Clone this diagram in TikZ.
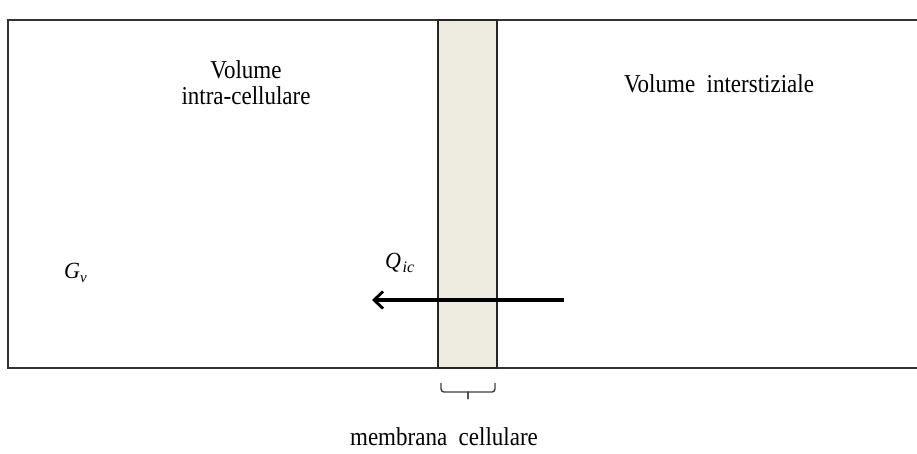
\documentclass[tikz,border=0pt]{standalone}
\usepackage{fontspec}
\setmainfont{Liberation Serif}
\usetikzlibrary{arrows.meta}
\begin{document}
\begin{tikzpicture}[x=1pt,y=-1pt,
  frame/.style={draw=black!80,line width=2pt},
  membrane/.style={draw=black!85,line width=1.8pt,fill=membfill,minimum width=59pt,minimum height=348pt,inner sep=0pt},
  lbl/.style={font=\fontsize{23}{24}\selectfont,inner sep=0pt,anchor=base},
  var/.style={font=\fontsize{21}{21}\selectfont\itshape,inner sep=0pt,anchor=base west},
  brace/.style={draw=black!75,line width=1.4pt},
  flow/.style={line width=3.8pt,-{Straight Barb[length=9pt,width=17pt,line width=2.8pt]}}]
\definecolor{membfill}{HTML}{EEECE1}
\useasboundingbox (0,0) rectangle (917,453);
\fill[white] (0,0) rectangle (917,453);
\coordinate (tr) at (917,20);
\coordinate (tl) at (8,20);
\coordinate (bl) at (8,368);
\coordinate (br) at (917,368);
\draw[frame] (tr) -- (tl) -- (bl) -- (br);
\node[membrane] (mem) at (467.5,194) {};
\coordinate (a1) at (564,300);
\coordinate (a2) at (372,300);
\draw[flow] (a1) -- (a2);
\node[lbl] (vic) at (246,78) {\scalebox{1}[1.12]{\begin{tabular}[t]{@{}c@{}}Volume\\intra-cellulare\end{tabular}}};
\node[lbl] (vis) at (719,92) {\scalebox{1}[1.12]{Volume\ \ interstiziale}};
\node[var] (gv) at (64,278) {\scalebox{1.05}[1.1]{G}\raisebox{-4pt}{\fontsize{15}{15}\selectfont v}};
\node[var] (qic) at (385,268) {\scalebox{1.05}[1.1]{Q}\kern1.5pt\raisebox{-4pt}{\fontsize{16}{16}\selectfont ic}};
\coordinate (b1) at (441,383);
\coordinate (b2) at (495,383);
\coordinate (bt) at (468,399);
\draw[brace] (b1) -- ++(0,6) to[out=-90,in=180] ++(3,3) -| (bt);
\draw[brace] (b2) -- ++(0,6) to[out=-90,in=0] ++(-3,3) -| (bt);
\node[lbl] (ml) at (444,445) {\scalebox{1}[1.12]{membrana\ \ cellulare}};
\end{tikzpicture}
\end{document}
